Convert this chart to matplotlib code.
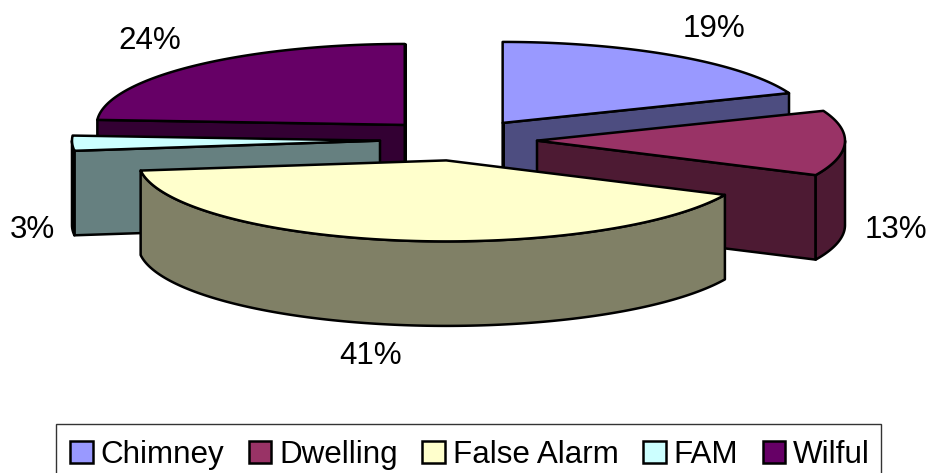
import numpy as np
import matplotlib
matplotlib.use("Agg")
import matplotlib.pyplot as plt
from matplotlib.patches import Polygon, Patch, Rectangle

categories = ["Chimney", "Dwelling", "False Alarm", "FAM", "Wilful"]
values = [19, 13, 41, 3, 24]
top_colors = ["#9999FF", "#993366", "#FFFFCC", "#CCFFFF", "#660066"]
side_colors = ["#4D4D80", "#4D1A33", "#808066", "#668080", "#330033"]
label_xy = [(714, 29), (896, 230), (371, 356), (32, 230), (150, 41)]

W, H = 929, 473
CX, CY, RX, RY, DEPTH, EXPLODE = 458.5, 140.0, 308.0, 81.0, 84.5, 0.255
LW = 1.8
FONT = 22.6

plt.rcParams["font.family"] = ["Liberation Sans", "DejaVu Sans"]
fig = plt.figure(figsize=(W / 100, H / 100), dpi=100)
ax = fig.add_axes([0, 0, 1, 1])
ax.set_xlim(0, W)
ax.set_ylim(H, 0)
ax.axis("off")

total = sum(values)
edges = np.concatenate([[0], np.cumsum(values)]) / total * 2 * np.pi


def rim(apex, a0, a1):
    t = np.linspace(a0, a1, max(int((a1 - a0) * 80), 2))
    return np.column_stack([apex[0] + RX * np.sin(t), apex[1] - RY * np.cos(t)])


def poly(pts, color, z):
    ax.add_patch(Polygon(pts, closed=True, facecolor=color, edgecolor="black",
                         linewidth=LW, joinstyle="round", zorder=z))


def draw_slice(i, z):
    a0, a1 = edges[i], edges[i + 1]
    mid = (a0 + a1) / 2
    apex = np.array([CX + EXPLODE * RX * np.sin(mid), CY - EXPLODE * RY * np.cos(mid)])
    down = np.array([0, DEPTH])
    # cut faces turned towards the viewer
    faces = []
    if 0 < a1 <= np.pi:
        faces.append(a1)
    if a0 >= np.pi or a0 == 0:
        faces.append(a0)
    if abs(a1 - 2 * np.pi) < 1e-9:
        faces.append(a1)
    for a in faces:
        p = rim(apex, a, a)[0]
        poly([apex, p, p + down, apex + down], side_colors[i], z)
    # outer curved wall, front half only
    lo, hi = max(a0, np.pi / 2), min(a1, 3 * np.pi / 2)
    if hi > lo:
        r = rim(apex, lo, hi)
        poly(np.vstack([r, r[::-1] + down]), side_colors[i], z + 0.1)
    # top face
    poly(np.vstack([[apex], rim(apex, a0, a1)]), top_colors[i], z + 0.2)


# back to front
for z, i in enumerate([4, 0, 3, 1, 2]):
    draw_slice(i, z + 1)

for i, (x, y) in enumerate(label_xy):
    ax.text(x, y, f"{values[i]}%", ha="center", va="center", fontsize=FONT,
            color="black", zorder=20)

# legend frame runs off the bottom of the picture
ax.add_patch(Rectangle((56, 424), 825, 60, facecolor="white", edgecolor="#333333",
                       linewidth=1.0, zorder=25, clip_on=True))
handles = [Patch(facecolor=c, edgecolor="black", linewidth=LW) for c in top_colors]
leg = ax.legend(handles, categories, ncol=5, loc="upper left",
                bbox_to_anchor=(70 / W, 1 - 440 / H), bbox_transform=fig.transFigure,
                fontsize=FONT, frameon=False, borderaxespad=0, borderpad=0,
                handlelength=0.72, handleheight=0.72, handletextpad=0.26,
                columnspacing=0.77, labelspacing=0)
leg.set_zorder(30)

fig.savefig("out.png", dpi=100)
